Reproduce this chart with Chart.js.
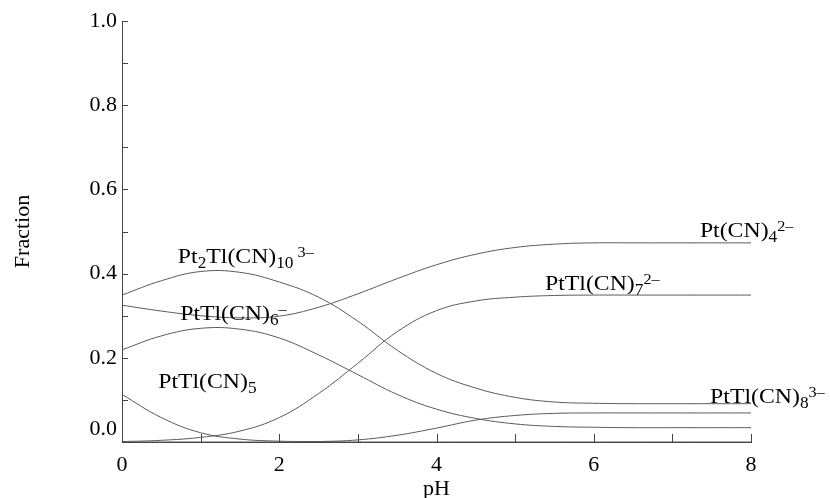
<!DOCTYPE html>
<html>
<head>
<meta charset="utf-8">
<script src="https://cdn.jsdelivr.net/npm/chart.js@4/dist/chart.umd.min.js"></script>
<style>
  html, body { margin: 0; padding: 0; background: #fff; }
  #wrap { width: 830px; height: 498px; }
</style>
</head>
<body>
<div id="wrap"><canvas id="speciation"></canvas></div>
<script>
// pH grid and fraction of each species
const phValues = [0, 0.5, 1, 1.5, 2, 2.5, 3, 3.5, 4, 4.5, 5, 5.5, 6, 6.5, 7, 7.5, 8];
const ptCN4  = [0.325, 0.311, 0.300, 0.295, 0.299, 0.320, 0.352, 0.388, 0.421, 0.446, 0.462, 0.470, 0.473, 0.473, 0.473, 0.473, 0.473];
const pt2Tl  = [0.349, 0.383, 0.405, 0.403, 0.380, 0.344, 0.287, 0.218, 0.163, 0.128, 0.106, 0.095, 0.092, 0.091, 0.091, 0.091, 0.091];
const ptTl6  = [0.219, 0.252, 0.270, 0.268, 0.247, 0.207, 0.160, 0.113, 0.078, 0.056, 0.043, 0.037, 0.035, 0.034, 0.034, 0.034, 0.034];
const ptTl5  = [0.113, 0.058, 0.022, 0.007, 0.002, 0.001, 0, 0, 0, 0, 0, 0, 0, 0, 0, 0, 0];
const ptTl7  = [0.001, 0.004, 0.011, 0.026, 0.058, 0.115, 0.187, 0.262, 0.312, 0.335, 0.344, 0.348, 0.349, 0.349, 0.349, 0.349, 0.349];
const ptTl8  = [0, 0, 0, 0, 0, 0.001, 0.005, 0.016, 0.033, 0.052, 0.063, 0.068, 0.069, 0.069, 0.069, 0.069, 0.069];

const seriesList = [ptCN4, pt2Tl, ptTl6, ptTl5, ptTl7, ptTl8];
const seriesNames = ["Pt(CN)4 2-", "Pt2Tl(CN)10 3-", "PtTl(CN)6 -", "PtTl(CN)5", "PtTl(CN)7 2-", "PtTl(CN)8 3-"];

// label text pieces: [text, "" | "sub" | "sup"]
const labelParts = [
  [["Pt(CN)", ""], ["4", "sub"], ["2\u2013", "sup"]],
  [["Pt", ""], ["2", "sub"], ["Tl(CN)", ""], ["10", "sub"], [" 3\u2013", "sup"]],
  [["PtTl(CN)", ""], ["6", "sub"], ["\u2013", "sup"]],
  [["PtTl(CN)", ""], ["5", "sub"]],
  [["PtTl(CN)", ""], ["7", "sub"], ["2\u2013", "sup"]],
  [["PtTl(CN)", ""], ["8", "sub"], ["3\u2013", "sup"]],
];
// where each label starts (pH, fraction of its baseline)
const labelX = [7.35, 0.71, 0.74, 0.46, 5.38, 7.48];
const labelY = [0.487, 0.425, 0.29, 0.128, 0.361, 0.093];

const serif = "'Liberation Serif', 'DejaVu Serif', serif";

// small inward ticks like the original plot
const inwardTicks = {
  id: "inwardTicks",
  afterDraw(chart) {
    const { ctx, chartArea } = chart;
    const xs = chart.scales.x, ys = chart.scales.y;
    ctx.save();
    ctx.strokeStyle = "#444";
    ctx.lineWidth = 1;
    ctx.beginPath();
    for (let v = xs.min; v <= xs.max + 1e-9; v += 1) {
      const px = Math.round(xs.getPixelForValue(v)) + 0.5;
      ctx.moveTo(px, chartArea.bottom);
      ctx.lineTo(px, chartArea.bottom - 8);
    }
    for (let i = 0; i <= 10; i++) {
      const py = Math.round(ys.getPixelForValue(i / 10)) + 0.5;
      ctx.moveTo(chartArea.left, py);
      ctx.lineTo(chartArea.left + 6, py);
    }
    ctx.stroke();
    ctx.restore();
  },
};

// species names with sub/superscripts
const speciesText = {
  id: "speciesText",
  afterDraw(chart) {
    const { ctx } = chart;
    const xs = chart.scales.x, ys = chart.scales.y;
    ctx.save();
    ctx.fillStyle = "#000";
    ctx.textBaseline = "alphabetic";
    labelParts.forEach((parts, i) => {
      const x0 = xs.getPixelForValue(labelX[i]);
      const y0 = ys.getPixelForValue(labelY[i]);
      ctx.save();
      ctx.translate(x0, y0);
      ctx.scale(1.08, 1);
      let x = 0;
      parts.forEach(([txt, mode]) => {
        let dy = 0;
        if (mode === "sub") { ctx.font = "16px " + serif; dy = 5; }
        else if (mode === "sup") { ctx.font = "15px " + serif; dy = -6; }
        else { ctx.font = "22px " + serif; }
        ctx.fillText(txt, x, dy);
        x += ctx.measureText(txt).width;
      });
      ctx.restore();
    });
    ctx.restore();
  },
};

const ctx = document.getElementById("speciation").getContext("2d");
new Chart(ctx, {
  type: "line",
  data: {
    labels: phValues,
    datasets: seriesList.map((vals, i) => ({
      label: seriesNames[i],
      data: vals.map((v, k) => ({ x: phValues[k], y: v })),
      borderColor: "#5a5a5a",
      borderWidth: 1,
      pointRadius: 0,
      fill: false,
      tension: 0.4,
    })),
  },
  options: {
    responsive: true,
    maintainAspectRatio: false,
    animation: false,
    layout: { padding: { left: 0, top: 21, right: 79, bottom: 0 } },
    plugins: {
      legend: { display: false },
      tooltip: { enabled: false },
    },
    scales: {
      x: {
        type: "linear",
        min: 0,
        max: 8,
        grid: { display: false, drawTicks: false },
        border: { display: true, color: "#444", width: 1 },
        ticks: {
          stepSize: 2,
          padding: 10,
          color: "#000",
          font: { family: serif, size: 22 },
        },
        title: {
          display: true,
          text: "pH",
          color: "#000",
          font: { family: serif, size: 22, lineHeight: 0.8 },
          padding: { top: 0, bottom: 0 },
        },
        afterFit(scale) { scale.height = 56; },
      },
      y: {
        min: 0,
        max: 1,
        grid: { display: false, drawTicks: false },
        border: { display: true, color: "#444", width: 1 },
        ticks: {
          stepSize: 0.2,
          padding: 5,
          color: "#000",
          font: { family: serif, size: 22 },
          // the 0.0 label sits a little above the axis in the original
          callback: (v) => (Math.abs(v) < 1e-9 ? ["0.0", ""] : v.toFixed(1)),
        },
        title: {
          display: true,
          text: "Fraction",
          color: "#000",
          font: { family: serif, size: 22 },
          padding: { top: 10, bottom: 0 },
        },
        afterFit(scale) { scale.width = 122; },
      },
    },
  },
  plugins: [inwardTicks, speciesText],
});
</script>
</body>
</html>
